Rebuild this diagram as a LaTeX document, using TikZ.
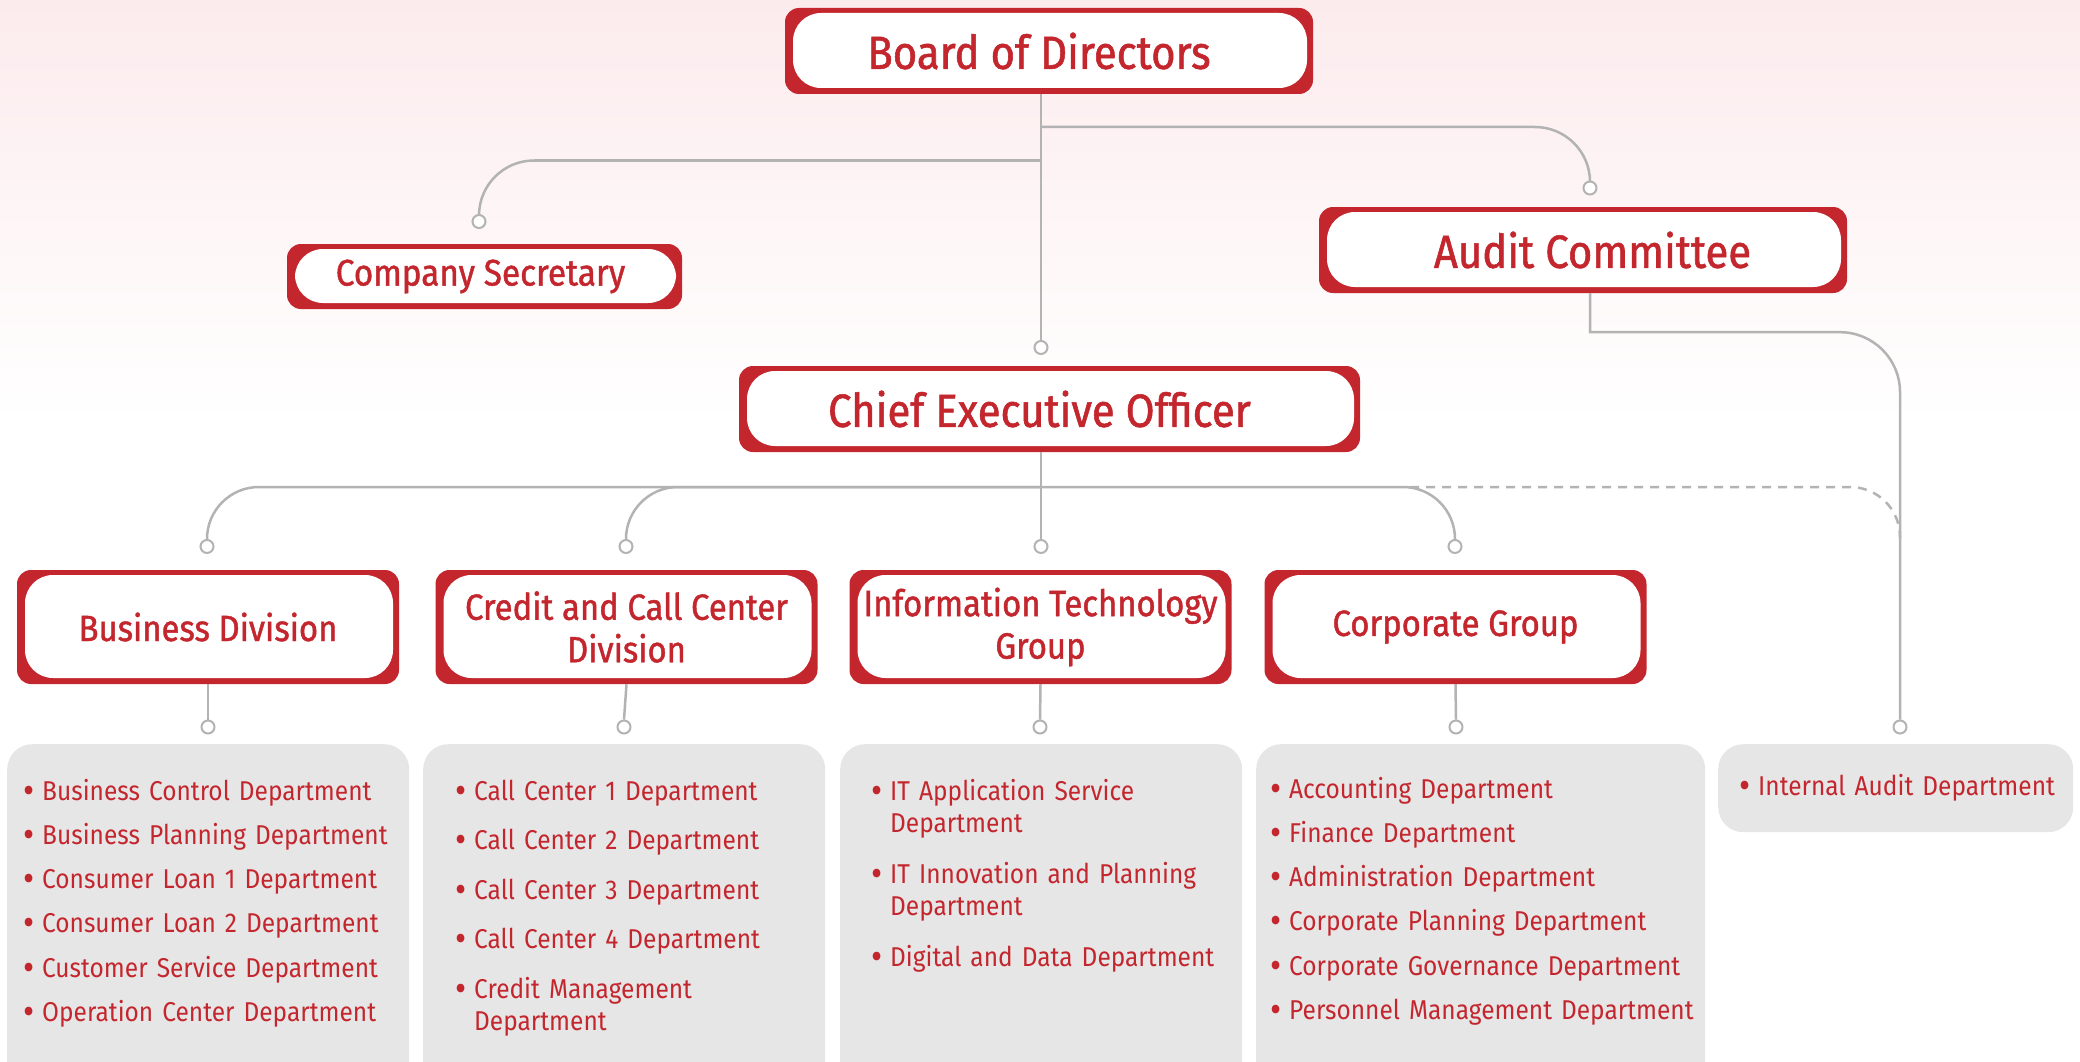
\documentclass[tikz,border=0pt]{standalone}
\usepackage{fontspec}
\setmainfont{Fira Sans}[FakeStretch=0.9]
\newfontfamily\headfont{Fira Sans}[FakeStretch=0.9, FakeBold=1.2]
\usetikzlibrary{positioning}

\definecolor{brandred}{HTML}{C4262E}
\definecolor{linkgray}{HTML}{B3B3B3}
\definecolor{listgray}{HTML}{E6E6E6}
\definecolor{bgpink}{HTML}{FCEBED}

% one bulleted department, hanging indent for wrapped lines
\newcommand{\dept}[1]{\hangindent=19pt\hangafter=1
  \makebox[19pt][l]{\raisebox{-3pt}{\fontsize{38}{32}\selectfont\textbullet}}#1\par}

\begin{document}
\begin{tikzpicture}[x=1pt, y=-1pt,
    unit/.style={fill=brandred, rounded corners=14pt, text=brandred, align=center,
                 inner sep=0pt,
                 path picture={\fill[white, rounded corners=28pt]
                   ([xshift=8pt, yshift=-5pt]path picture bounding box.north west) rectangle
                   ([xshift=-6pt, yshift=6pt]path picture bounding box.south east);}},
    topunit/.style={unit, minimum width=528pt, minimum height=86pt,
                    font=\headfont\fontsize{46.5}{50}\selectfont},
    subunit/.style={unit, minimum width=382pt, minimum height=114pt,
                    font=\headfont\fontsize{36.5}{42.5}\selectfont},
    dot/.style={circle, draw=linkgray, fill=white, line width=2pt,
                inner sep=0pt, minimum size=13pt},
    link/.style={draw=linkgray, line width=2.5pt},
    listbox/.style={fill=listgray, rounded corners=25pt, anchor=north west, inner sep=0pt},
    deptlist/.style={anchor=base west, align=left, inner sep=0pt, text=brandred,
                     font=\fontsize{27.2}{32}\selectfont}
  ]
  \useasboundingbox (0,0) rectangle (2080,1062);
  \shade[top color=bgpink, bottom color=white] (0,0) rectangle (2080,420);

  % top level
  \node[topunit] (board) at (1049,51) {\hspace*{-20pt}Board of Directors};
  \node[unit, minimum width=395pt, minimum height=65pt,
        font=\headfont\fontsize{37}{42}\selectfont] (secretary) at (484.5,276.5) {\hspace*{-8pt}Company Secretary};
  \node[topunit] (audit) at (1583,250) {\hspace*{19pt}Audit Committee};
  \node[topunit, minimum width=621pt] (ceo) at (1049.5,409) {\hspace*{-20pt}Chief Executive Officer};

  % divisions
  \node[subunit] (bus)  at (208,627)    {Business Division};
  \node[subunit] (cred) at (626.5,627)  {Credit and Call Center\\Division};
  \node[subunit] (itg)  at (1040.5,627) {Information Technology\\Group};
  \node[subunit] (corp) at (1455.5,627) {Corporate Group};

  % connector ends
  \node[dot] (dSec)  at (479,221.5) {};
  \node[dot] (dAud)  at (1590,188) {};
  \node[dot] (dCeo)  at (1041,347.5) {};
  \node[dot] (dBus)  at (207,546.5) {};
  \node[dot] (dCred) at (626,546.5) {};
  \node[dot] (dIT)   at (1041,546.5) {};
  \node[dot] (dCorp) at (1455,546.5) {};
  \node[dot] (dBusL)  at (208,727) {};
  \node[dot] (dCredL) at (624,727) {};
  \node[dot] (dITL)   at (1040,727) {};
  \node[dot] (dCorpL) at (1456,727) {};
  \node[dot] (dInt)   at (1900,727) {};

  \coordinate (jAud)   at (1041,127);
  \coordinate (jSec)   at (1041,160.5);
  \coordinate (jCeo)   at (1041,487);
  \coordinate (jDash)  at (1410,487);
  \coordinate (jMerge) at (1900,538);

  % connectors
  \draw[link] (board.south -| dCeo) -- (dCeo.north);
  \draw[link, rounded corners=55pt] (jSec) -| (dSec.north);
  \draw[link, rounded corners=55pt] (jAud) -| (dAud.north);
  \draw[link] (audit.south -| dAud) -- ++(0,39) [rounded corners=60pt] -| (dInt.north);
  \draw[link] (ceo.south -| dIT) -- (dIT.north);
  \draw[link, rounded corners=52pt] (jCeo) -| (dBus.north);
  \draw[link, rounded corners=52pt] (jCeo) -| (dCred.north);
  \draw[link, rounded corners=52pt] (jCeo) -| (dCorp.north);
  \draw[link, dashed, dash pattern=on 9pt off 7pt, rounded corners=50pt] (jDash) -| (jMerge);
  \draw[link] (bus.south)  -- (dBusL.north);
  \draw[link] (cred.south) -- (dCredL.north);
  \draw[link] (itg.south)  -- (dITL.north);
  \draw[link] (corp.south) -- (dCorpL.north);

  % departments
  \node[listbox, minimum width=402pt, minimum height=350pt] (busBox)  at (7,744) {};
  \node[listbox, minimum width=402pt, minimum height=350pt] (credBox) at (423,744) {};
  \node[listbox, minimum width=402pt, minimum height=350pt] (itBox)   at (840,744) {};
  \node[listbox, minimum width=449pt, minimum height=350pt] (corpBox) at (1256,744) {};
  \node[listbox, minimum width=355pt, minimum height=88pt]  (intBox)  at (1718,744) {};

  \node[deptlist, text width=380pt] (busList) at (23,800) {\setlength\parskip{12.3pt}%
    \dept{Business Control Department}
    \dept{Business Planning Department}
    \dept{Consumer Loan 1 Department}
    \dept{Consumer Loan 2 Department}
    \dept{Customer Service Department}
    \dept{Operation Center Department}};
  \node[deptlist, text width=380pt] (credList) at (455,800) {\setlength\parskip{17.5pt}%
    \dept{Call Center 1 Department}
    \dept{Call Center 2 Department}
    \dept{Call Center 3 Department}
    \dept{Call Center 4 Department}
    \dept{Credit Management\newline Department}};
  \node[deptlist, text width=380pt] (itList) at (871,800) {\setlength\parskip{19pt}%
    \dept{IT Application Service\newline Department}
    \dept{IT Innovation and Planning\newline Department}
    \dept{Digital and Data Department}};
  \node[deptlist, text width=440pt] (corpList) at (1270,798) {\setlength\parskip{12.3pt}%
    \dept{Accounting Department}
    \dept{Finance Department}
    \dept{Administration Department}
    \dept{Corporate Planning Department}
    \dept{Corporate Governance Department}
    \dept{Personnel Management Department}};
  \node[deptlist, text width=340pt] (intList) at (1739,795) {\dept{Internal Audit Department}};
\end{tikzpicture}
\end{document}
